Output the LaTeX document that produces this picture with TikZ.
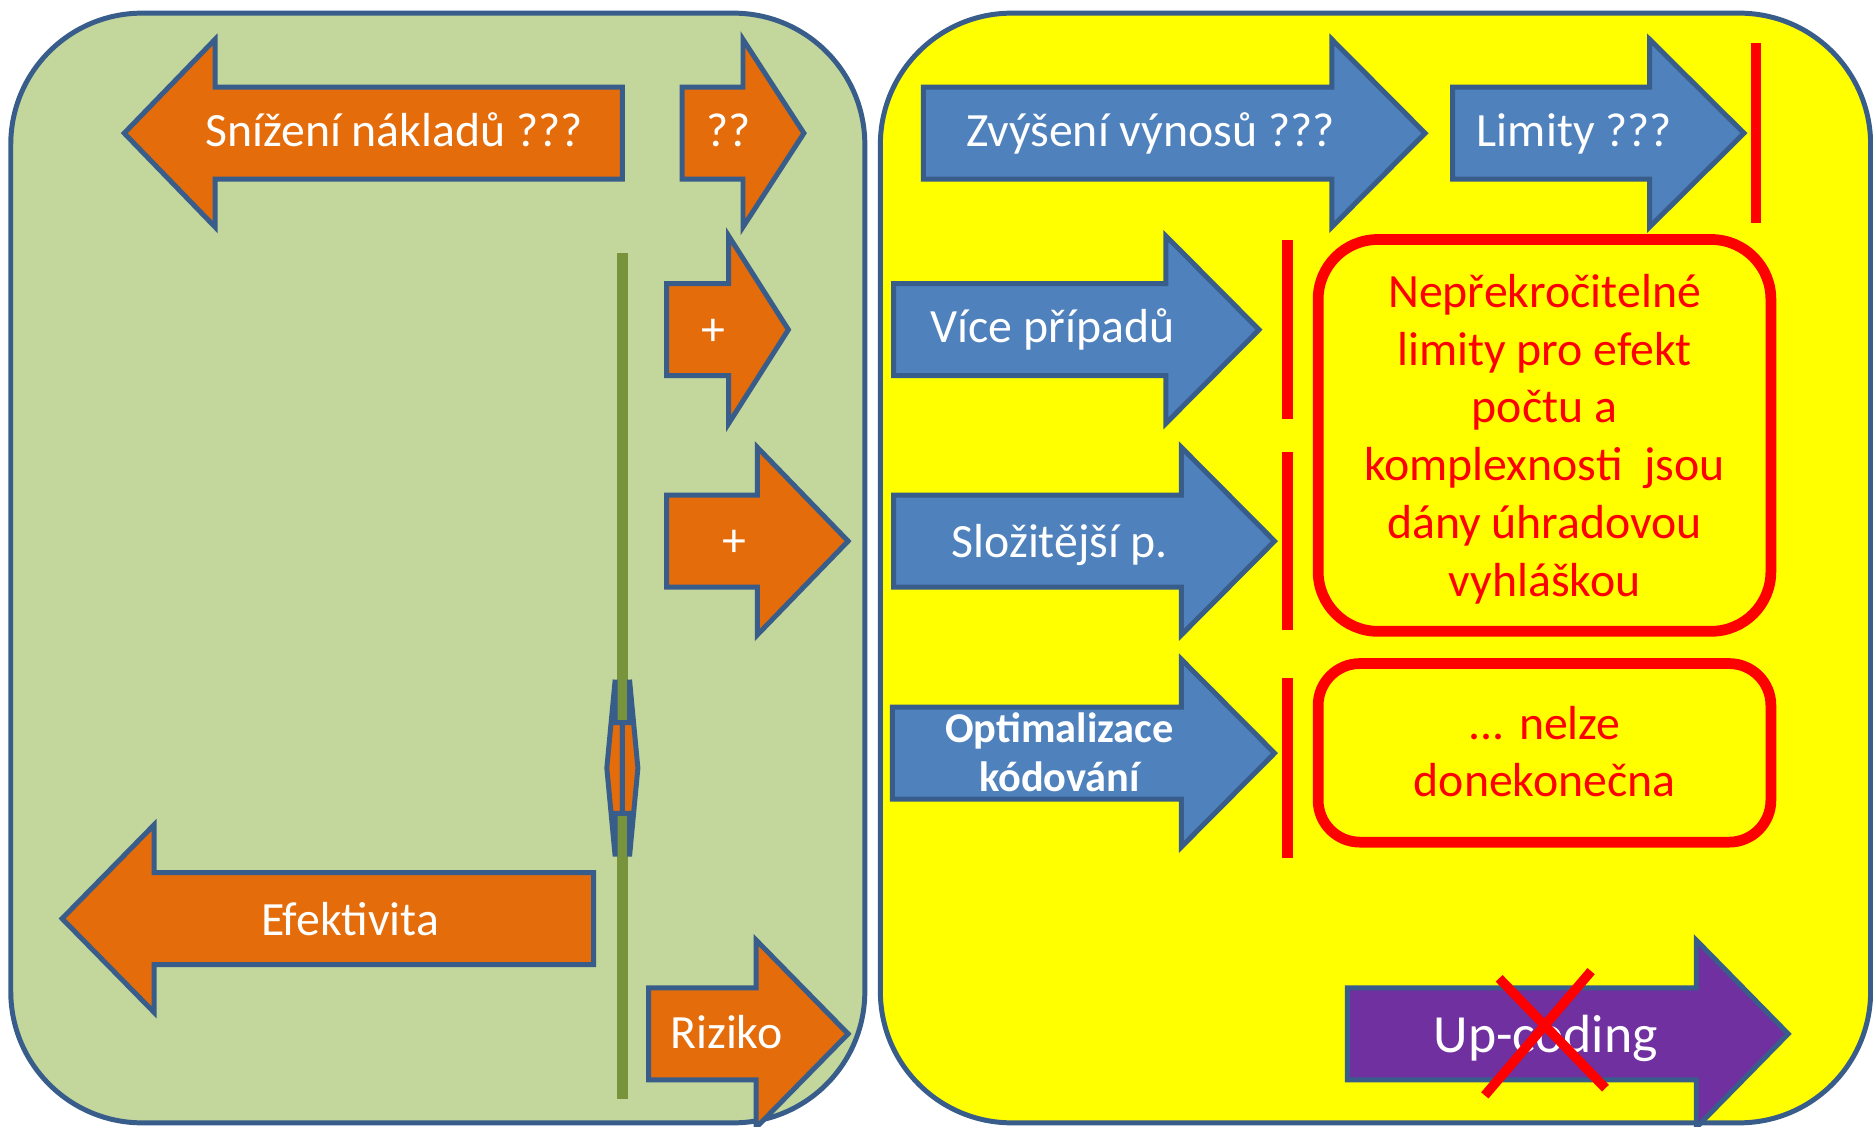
\documentclass[tikz,border=0pt]{standalone}
\usepackage{fontspec}
\setmainfont{Carlito}
\usepackage{tikz}
\definecolor{panelgreen}{HTML}{C3D69B}
\definecolor{panelyellow}{HTML}{FFFF00}
\definecolor{edgeblue}{HTML}{385D8A}
\definecolor{arrorange}{HTML}{E46C0A}
\definecolor{arrblue}{HTML}{4F81BD}
\definecolor{arrpurple}{HTML}{7030A0}
\definecolor{lineolive}{HTML}{77933C}

\begin{document}
\begin{tikzpicture}[x=0.6pt,y=-0.6pt,
    arr/.style={draw=edgeblue,line width=2.5pt},
    lbl/.style={text=white,font=\fontsize{24}{29}\selectfont,align=center,anchor=base,inner sep=0pt},
    redtxt/.style={text=red,font=\fontsize{24}{29}\selectfont,align=center,anchor=base,inner sep=0pt},
    stopline/.style={red,line width=5.4pt}]
  \useasboundingbox (0,0) rectangle (1568,943);
  % two panels
  \draw[fill=panelgreen,draw=edgeblue,line width=2.5pt,rounded corners=66pt] (9,11) rectangle (724,940);
  \draw[fill=panelyellow,draw=edgeblue,line width=2.5pt,rounded corners=66pt] (737,11) rectangle (1566,940);
  % vertical line in the left panel
  \draw[lineolive,line width=5.5pt] (521,212) -- (521,920);
  % block arrows: shaft end / head back / tip / middle / colour
  \foreach \s/\h/\t/\m/\c in {521/180/104/111.5/arrorange, 571/622/673/111.5/arrorange,
      558/610/660/276/arrorange, 558/634/710/453/arrorange, 497/129/52/769/arrorange,
      543/633/710/865.5/arrorange, 773/1115/1193/111.5/arrblue, 1216/1381/1460/111.5/arrblue,
      748/976/1054/276/arrblue, 748/989/1067/453/arrblue, 747/989/1067/630.5/arrblue,
      1128/1420/1497/865.5/arrpurple}{
    \draw[arr,fill=\c] (\s,\m-38.5) -- (\h,\m-38.5) -- (\h,\m-78.5) -- (\t,\m)
      -- (\h,\m+78.5) -- (\h,\m+38.5) -- (\s,\m+38.5) -- cycle;}
  % small double arrow on the line
  \foreach \h/\t in {515/508, 527/534}{
    \draw[arr,fill=arrorange] (521,605) -- (\h,605) -- (\h,569) -- (\t,643)
      -- (\h,717) -- (\h,681) -- (521,681) -- cycle;}
  % red stops
  \foreach \x/\a/\b in {1470/36/187, 1078/201/351, 1078/378/527, 1078/568/718}{
    \draw[stopline] (\x,\a) -- (\x,\b);}
  % red boxes
  \draw[red,line width=5.4pt,rounded corners=30pt] (1103.5,200.5) rectangle (1482.5,528.5);
  \draw[red,line width=5.4pt,rounded corners=21pt] (1103.5,555.5) rectangle (1482.5,705);
  % labels (base = last line)
  \node[lbl] (snizeni) at (330,123) {Snížení nákladů ???};
  \node[lbl] (otazky) at (610,123) {??};
  \node[lbl,anchor=center] (plusa) at (597,278) {+};
  \node[lbl,anchor=center] (plusb) at (615,455) {+};
  \node[lbl] (efekt) at (293,783) {Efektivita};
  \node[lbl] (riziko) at (608,878) {Riziko};
  \node[lbl] (zvyseni) at (963,123) {Zvýšení výnosů ???};
  \node[lbl] (limity) at (1318,123) {Limity ???};
  \node[lbl] (vice) at (881,287) {Více případů};
  \node[lbl] (slozitejsi) at (887,467) {Složitější p.};
  \node[lbl,font=\bfseries\fontsize{21.3}{25}\selectfont] (optim) at (887,663) {Optimalizace\\kódování};
  \node[lbl,font=\fontsize{27}{32}\selectfont] (upcoding) at (1294,881) {Up-coding};
  \node[redtxt] (nepre) at (1293,499) {Nepřekročitelné\\limity pro efekt\\počtu a\\komplexnosti\ \ jsou\\dány úhradovou\\vyhláškou};
  \node[redtxt] (nelze) at (1293,667) {... nelze\\donekonečna};
  % cross over up-coding
  \draw[red,line width=4.8pt] (1255,819) -- (1344,911);
  \draw[red,line width=4.8pt] (1332,813) -- (1243,917);
\end{tikzpicture}
\end{document}
